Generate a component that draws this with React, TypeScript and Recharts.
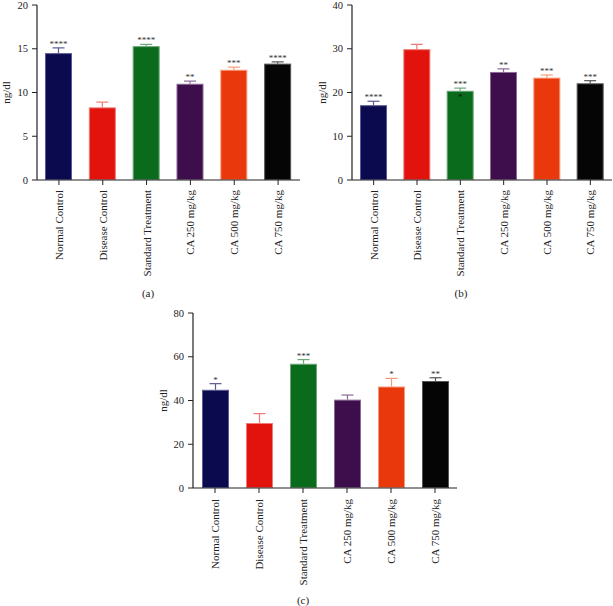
import React from "react";
import { BarChart, Bar, XAxis, YAxis, Cell, Label } from "recharts";

const categories = [
  "Normal Control",
  "Disease Control",
  "Standard Treatment",
  "CA 250 mg/kg",
  "CA 500 mg/kg",
  "CA 750 mg/kg",
];

// panel (a)
const valuesA = [14.5, 8.3, 15.3, 11.0, 12.6, 13.3];
const errorsA = [0.6, 0.6, 0.2, 0.3, 0.3, 0.2];
const starsA = ["****", "", "****", "**", "***", "****"];
const ticksA = [0, 5, 10, 15, 20];

// panel (b)
const valuesB = [17.1, 29.9, 20.4, 24.7, 23.4, 22.1];
const errorsB = [0.9, 1.1, 0.6, 0.7, 0.6, 0.6];
const starsB = ["****", "", "***", "**", "***", "***"];
const innerStarsB = ["", "", "*", "", "", ""];
const ticksB = [0, 10, 20, 30, 40];

// panel (c)
const valuesC = [44.9, 29.7, 56.8, 40.4, 46.4, 48.9];
const errorsC = [2.8, 4.3, 1.9, 2.1, 3.7, 1.5];
const starsC = ["*", "", "***", "", "*", "**"];
const ticksC = [0, 20, 40, 60, 80];

const COLORS = [
  "#0c0a4e", // navy
  "#e2120d", // red
  "#0b6b1d", // green
  "#3e0d4b", // purple
  "#e8380c", // orange
  "#050505", // black
];
const EDGES = ["#5a5a92", "#f07a76", "#6aa878", "#8a6a96", "#f49a7a", "#555555"];

const FONT = "'Liberation Serif', 'DejaVu Serif', serif";

function XTick({ x, y, payload, offset = 4 }: any) {
  return (
    <text
      x={x}
      y={y + offset}
      transform={`rotate(-90 ${x} ${y + offset})`}
      textAnchor="end"
      dominantBaseline="central"
      fontFamily={FONT}
      fontSize={11}
      fill="#222"
    >
      {payload.value}
    </text>
  );
}

function makeShape(errors: number[], stars: string[], inner?: string[]) {
  return (props: any) => {
    const { x, y, width, height, index, value } = props;
    const v = Array.isArray(value) ? value[1] - value[0] : value;
    const perUnit = v ? height / v : 0;
    const top = y - errors[index] * perUnit;
    const cx = x + width / 2;
    const color = COLORS[index];
    return (
      <g>
        <line x1={cx} x2={cx} y1={y} y2={top} stroke={EDGES[index]} strokeWidth={1.2} />
        <line x1={cx - 6} x2={cx + 6} y1={top} y2={top} stroke={EDGES[index]} strokeWidth={1.2} />
        <rect
          x={x + 0.5}
          y={y + 0.5}
          width={width - 1}
          height={Math.max(height - 1, 0)}
          fill={color}
          stroke={EDGES[index]}
          strokeWidth={1}
        />
        {stars[index] ? (
          <text x={cx} y={top - 1} textAnchor="middle" fontFamily={FONT} fontSize={9} fill="#333">
            {stars[index]}
          </text>
        ) : null}
        {inner && inner[index] ? (
          <text x={cx} y={y + 9} textAnchor="middle" fontFamily={FONT} fontSize={9} fill="#111">
            {inner[index]}
          </text>
        ) : null}
      </g>
    );
  };
}

function Panel({
  values,
  errors,
  stars,
  inner,
  ticks,
  width,
  height,
  yWidth,
  right,
  labelDx,
  tickOffset,
}: {
  values: number[];
  errors: number[];
  stars: string[];
  inner?: string[];
  ticks: number[];
  width: number;
  height: number;
  yWidth: number;
  right: number;
  labelDx: number;
  tickOffset: number;
}) {
  const data = categories.map((name, i) => ({ name, value: values[i] }));
  return (
    <BarChart
      width={width}
      height={height}
      data={data}
      margin={{ top: 5, right, left: 0, bottom: 0 }}
      barSize={27}
    >
      <XAxis
        dataKey="name"
        interval={0}
        height={height - 180}
        tick={<XTick offset={tickOffset} />}
        tickSize={5}
        tickMargin={2}
        axisLine={{ stroke: "#222", strokeWidth: 1.2 }}
        tickLine={{ stroke: "#222" }}
      />
      <YAxis
        width={yWidth}
        domain={[ticks[0], ticks[ticks.length - 1]]}
        ticks={ticks}
        interval={0}
        tickSize={5}
        tickMargin={4}
        axisLine={{ stroke: "#222", strokeWidth: 1.2 }}
        tickLine={{ stroke: "#222" }}
        tick={{ fontFamily: FONT, fontSize: 10.5, fill: "#222" }}
      >
        <Label
          value="ng/dl"
          angle={-90}
          position="center"
          dx={labelDx}
          style={{ fontFamily: FONT, fontSize: 11, fill: "#222" }}
        />
      </YAxis>
      <Bar dataKey="value" isAnimationActive={false} shape={makeShape(errors, stars, inner)}>
        {data.map((_, i) => (
          <Cell key={`cell-${i}`} fill={COLORS[i]} />
        ))}
      </Bar>
    </BarChart>
  );
}

const caption: React.CSSProperties = {
  position: "absolute",
  fontFamily: FONT,
  fontSize: 11,
  color: "#222",
  transform: "translate(-50%, -50%)",
};

export default function App() {
  return (
    <div
      style={{
        position: "absolute",
        left: 0,
        top: 0,
        width: 613,
        height: 606,
        background: "#fff",
        overflow: "hidden",
      }}
    >
      <div style={{ position: "absolute", left: 0, top: 0 }}>
        <Panel
          values={valuesA}
          errors={errorsA}
          stars={starsA}
          ticks={ticksA}
          width={305}
          height={290}
          yWidth={37}
          right={5}
          labelDx={-12.5}
          tickOffset={3}
        />
      </div>
      <div style={{ position: "absolute", left: 310, top: 0 }}>
        <Panel
          values={valuesB}
          errors={errorsB}
          stars={starsB}
          inner={innerStarsB}
          ticks={ticksB}
          width={303}
          height={290}
          yWidth={42}
          right={1}
          labelDx={-9}
          tickOffset={3}
        />
      </div>
      <div style={{ position: "absolute", left: 155, top: 308 }}>
        <Panel
          values={valuesC}
          errors={errorsC}
          stars={starsC}
          ticks={ticksC}
          width={305}
          height={298}
          yWidth={38}
          right={3}
          labelDx={-11}
          tickOffset={4}
        />
      </div>
      <div style={{ ...caption, left: 148, top: 293 }}>(a)</div>
      <div style={{ ...caption, left: 461, top: 293 }}>(b)</div>
      <div style={{ ...caption, left: 303, top: 600 }}>(c)</div>
    </div>
  );
}
